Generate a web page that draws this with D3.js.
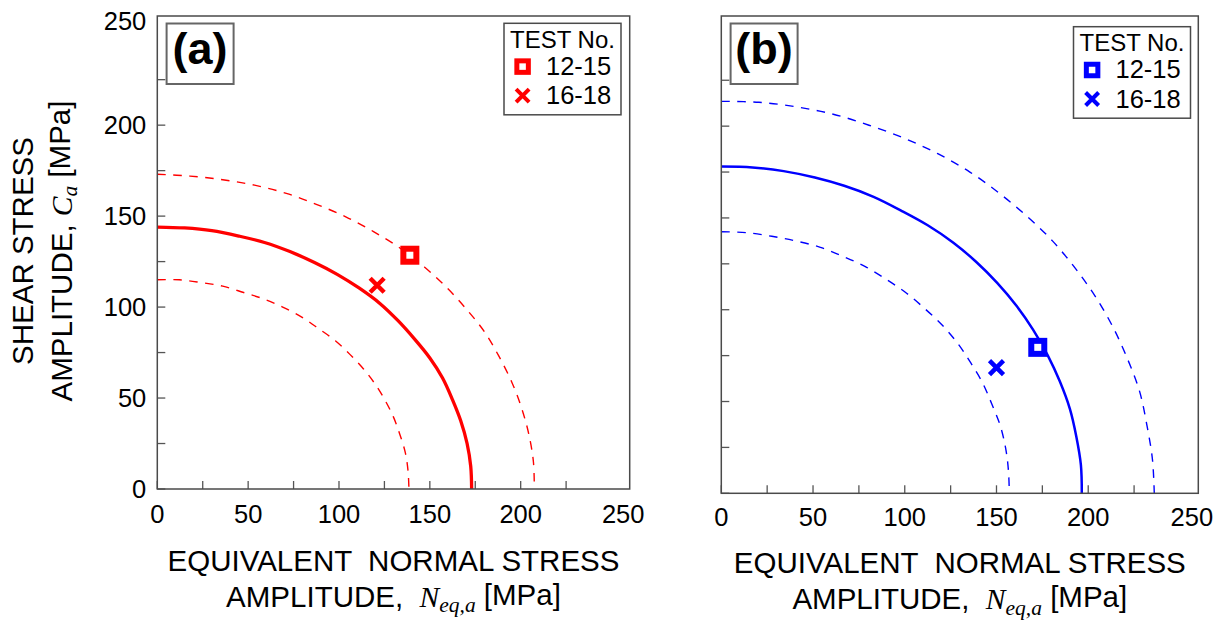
<!DOCTYPE html>
<html>
<head>
<meta charset="utf-8">
<script src="https://cdn.jsdelivr.net/npm/d3@7"></script>
<style>
  body { margin: 0; background: #fff; }
  text { font-family: 'Liberation Sans', Arial, sans-serif; fill: #000; }
  .serif { font-family: 'Liberation Serif', 'Times New Roman', serif; font-style: italic; }
</style>
</head>
<body>
<div id="chart"></div>
<script>
const axisMax     = 260
const tickValues  = [0, 25, 50, 75, 100, 125, 150, 175, 200, 225]
const tickLabels  = [0, 50, 100, 150, 200, 250]
const legendTitle = 'TEST No.'
const legendNames = ['12-15', '16-18']

// panel (a): criterion curve and the two dashed scatter bands
const midA_x   = [0, 15, 30, 45, 59, 73, 86.5, 99, 111, 122.5, 132.5, 141.5, 150, 157, 162.5, 167, 170.5, 172.5, 173]
const midA_y   = [144, 143.5, 142, 139, 135.5, 130.5, 124.5, 118, 110.5, 102, 92.5, 82.5, 72, 61, 49, 37.5, 25, 12.5, 0]
const upperA_x = [0, 18, 36, 53.5, 71, 87.5, 104, 119, 133.5, 147, 159, 170, 180, 188, 195, 200.5, 204.5, 207, 207.5]
const upperA_y = [173, 172, 170, 167, 162.5, 156.5, 149.5, 141.5, 132.5, 122, 111, 99, 86.5, 73, 59, 44.5, 30, 15, 0]
const lowerA_x = [0, 12, 24, 36, 47.5, 58.5, 69, 79.5, 89, 98, 106, 113.5, 120, 125.5, 130, 133.5, 136.5, 138, 138.5]
const lowerA_y = [115, 115, 113.5, 111.5, 108, 104.5, 100, 94.5, 88, 81.5, 74, 66, 57.5, 48.5, 39.5, 30, 20, 10, 0]
const testsA_x = [139, 121]
const testsA_y = [128.5, 112]

// panel (b)
const midB_x   = [0, 17, 34, 51, 67, 83, 98, 112.5, 126.5, 139, 150.5, 161, 170, 178, 184.5, 190, 193.5, 196, 196.5]
const midB_y   = [178, 177.5, 175.5, 172, 167.5, 161.5, 154, 146, 136.5, 126, 114.5, 102, 89, 75, 61, 46, 31, 15.5, 0]
const upperB_x = [0, 20.5, 41, 61, 80.5, 99.5, 118, 135.5, 151.5, 166.5, 180.5, 193, 204, 213.5, 221.5, 228, 232, 235, 236]
const upperB_y = [213.5, 213, 210.5, 206.5, 200.5, 193.5, 185, 175, 163.5, 151, 137.5, 122.5, 107, 90.5, 73, 55.5, 37, 18.5, 0]
const lowerB_x = [0, 13.5, 27.5, 40.5, 54, 66.5, 78.5, 90, 101, 111, 120.5, 129, 136, 142.5, 147.5, 152, 155, 156.5, 157]
const lowerB_y = [142.5, 142, 140, 137.5, 134, 129, 123.5, 116.5, 109, 100.5, 91.5, 81.5, 71, 60, 48.5, 37, 24.5, 12.5, 0]
const testsB_x = [172.5, 150]
const testsB_y = [79.5, 68.5]

var svg = d3.select('#chart').append('svg').attr('width', 1225).attr('height', 620)

function drawSquare(g, cx, cy, side, sw, color) {
  g.append('rect').attr('x', cx - side / 2).attr('y', cy - side / 2).attr('width', side).attr('height', side)
    .attr('fill', '#fff').attr('stroke', color).attr('stroke-width', sw)
}

function drawCross(g, cx, cy, r, sw, color) {
  g.append('path').attr('d', 'M' + (cx - r) + ',' + (cy - r) + 'L' + (cx + r) + ',' + (cy + r) + 'M' + (cx - r) + ',' + (cy + r) + 'L' + (cx + r) + ',' + (cy - r))
    .attr('stroke', color).attr('stroke-width', sw).attr('fill', 'none')
}

function drawPanel(p) {
  var x = d3.scaleLinear().domain([0, axisMax]).range([p.left, p.right])
  var y = d3.scaleLinear().domain([0, axisMax]).range([p.bottom, p.top])
  var g = svg.append('g')

  //curves
  var line = d3.line().x(d => x(d[0])).y(d => y(d[1])).curve(d3.curveCatmullRom)
  var clip = 'clip' + p.name
  g.append('clipPath').attr('id', clip).append('rect').attr('x', p.left).attr('y', p.top).attr('width', p.right - p.left).attr('height', p.bottom - p.top)
  var curves = [[p.lower, '8.5,7.5', 1.4], [p.upper, '8.5,7.5', 1.4], [p.mid, null, p.midWidth]]
  curves.forEach(function(c) {
    g.append('path').datum(d3.zip(c[0][0], c[0][1]))
      .attr('clip-path', 'url(#' + clip + ')')
      .attr('fill', 'none').attr('stroke', p.color).attr('stroke-width', c[2])
      .attr('stroke-dasharray', c[1])
      .attr('d', line)
  })

  //ticks (inward, every 25 MPa)
  g.selectAll('.xt').data(tickValues).enter().append('line')
    .attr('x1', d => x(d)).attr('x2', d => x(d)).attr('y1', p.bottom).attr('y2', p.bottom - 8)
    .attr('stroke', '#555').attr('stroke-width', 1.3)
  g.selectAll('.yt').data(tickValues).enter().append('line')
    .attr('x1', p.left).attr('x2', p.left + 8).attr('y1', d => y(d)).attr('y2', d => y(d))
    .attr('stroke', '#555').attr('stroke-width', 1.3)

  //frame
  g.append('rect').attr('x', p.left).attr('y', p.top).attr('width', p.right - p.left).attr('height', p.bottom - p.top)
    .attr('fill', 'none').attr('stroke', '#4a4a4a').attr('stroke-width', 1.5)

  //tick labels, the end label sits at the frame corner
  var last = tickLabels[tickLabels.length - 1]
  g.selectAll('.xl').data(tickLabels).enter().append('text')
    .attr('x', d => d == last ? p.right - 6.5 : x(d)).attr('y', p.bottom + p.xLabelDy)
    .attr('text-anchor', 'middle').style('font-size', '25.5px').text(d => d)
  if (p.yLabels) {
    g.selectAll('.yl').data(tickLabels).enter().append('text')
      .attr('x', p.left - 11).attr('y', d => d == last ? p.top + 5 : y(d)).attr('dy', '0.36em')
      .attr('text-anchor', 'end').style('font-size', '25.5px').text(d => d)
  }

  //markers
  drawSquare(g, x(p.tests[0][0]), y(p.tests[1][0]), 13, 6, p.color)
  drawCross(g, x(p.tests[0][1]), y(p.tests[1][1]), 7, 4.5, p.color)

  //panel label
  g.append('rect').attr('x', p.left + 9.3).attr('y', p.top + 7.5).attr('width', 67).attr('height', 60.5)
    .attr('fill', '#fff').attr('stroke', '#666').attr('stroke-width', 2)
  g.append('text').attr('x', p.left + 42.8).attr('y', p.top + 48).attr('text-anchor', 'middle')
    .style('font-size', '45px').style('font-weight', 'bold').text(p.label)

  //legend
  var lx = p.right - p.legendRight - 117, ly = p.top + p.legendTop
  g.append('rect').attr('x', lx).attr('y', ly).attr('width', 117).attr('height', 91.5)
    .attr('fill', '#fff').attr('stroke', '#4a4a4a').attr('stroke-width', 1.5)
  g.append('text').attr('x', lx + 6).attr('y', ly + 24.7).style('font-size', '24px').text(legendTitle)
  legendNames.forEach(function(name, i) {
    g.append('text').attr('x', lx + 42).attr('y', ly + 51.5 + i * 29.5).style('font-size', '25.5px').text(name)
  })
  drawSquare(g, lx + 18.6, ly + 43.3, 11.5, 5, p.color)
  drawCross(g, lx + 18.6, ly + 72.3, 6.5, 4, p.color)

  //x title
  var cx = (p.left + p.right) / 2
  g.append('text').attr('x', cx).attr('y', p.bottom + p.titleDy).attr('text-anchor', 'middle')
    .style('font-size', '29.5px').style('white-space', 'pre').text('EQUIVALENT  NORMAL STRESS')
  var t2 = g.append('text').attr('x', cx).attr('y', p.bottom + p.titleDy + 36).attr('text-anchor', 'middle')
    .style('font-size', '29.5px').style('white-space', 'pre')
  t2.append('tspan').text('AMPLITUDE,  ')
  t2.append('tspan').attr('class', 'serif').text('N')
  t2.append('tspan').attr('class', 'serif').attr('dy', '0.25em').style('font-size', '21.5px').text('eq,a')
  t2.append('tspan').attr('dy', '-0.25em').text(' [MPa]')
}

drawPanel({
  name: 'a', label: '(a)', color: '#ff0000', midWidth: 3.3,
  left: 157.3, right: 629.7, top: 16, bottom: 489,
  mid: [midA_x, midA_y], upper: [upperA_x, upperA_y], lower: [lowerA_x, lowerA_y], tests: [testsA_x, testsA_y],
  yLabels: true, xLabelDy: 34, legendRight: 8.7, legendTop: 7.3, titleDy: 82
})

drawPanel({
  name: 'b', label: '(b)', color: '#0000ff', midWidth: 2.5,
  left: 721.3, right: 1198.3, top: 16, bottom: 493.3,
  mid: [midB_x, midB_y], upper: [upperB_x, upperB_y], lower: [lowerB_x, lowerB_y], tests: [testsB_x, testsB_y],
  yLabels: false, xLabelDy: 33, legendRight: 7.8, legendTop: 10.7, titleDy: 80
})

//y title for panel (a)
var yt = svg.append('g').attr('transform', 'translate(0,' + 251 + ') rotate(-90)')
yt.append('text').attr('x', 0).attr('y', 33).attr('text-anchor', 'middle').style('font-size', '29.5px').text('SHEAR STRESS')
var yt2 = yt.append('text').attr('x', 0).attr('y', 71.5).attr('text-anchor', 'middle').style('font-size', '29.5px').style('white-space', 'pre')
yt2.append('tspan').text('AMPLITUDE, ')
yt2.append('tspan').attr('class', 'serif').text('C')
yt2.append('tspan').attr('class', 'serif').attr('dy', '0.25em').style('font-size', '21.5px').text('a')
yt2.append('tspan').attr('dy', '-0.25em').text(' [MPa]')
</script>
</body>
</html>
